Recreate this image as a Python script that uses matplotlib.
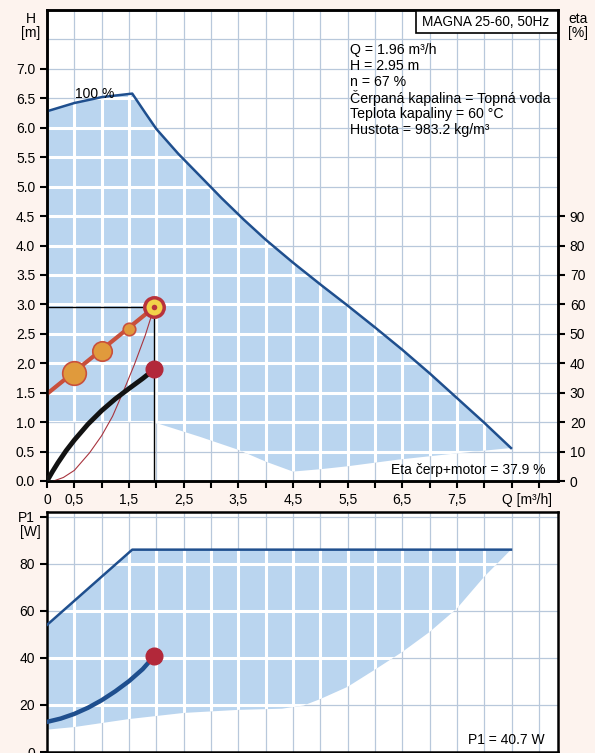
import numpy as np
import matplotlib.pyplot as plt
from matplotlib.patches import Polygon, Rectangle

plt.rcParams['font.family'] = ['Liberation Sans', 'DejaVu Sans']

# --- top chart: H [m] vs Q [m3/h] ---
q_max = [0, 0.5, 1.0, 1.56, 1.8, 2.0, 2.4, 2.79, 3.2, 3.6, 4.0, 4.5, 5.0, 5.5, 6.0, 6.5, 7.0, 7.5, 8.0, 8.49]
h_max = [6.28, 6.42, 6.52, 6.58, 6.25, 5.98, 5.56, 5.19, 4.8, 4.44, 4.1, 3.71, 3.34, 2.98, 2.61, 2.23, 1.83, 1.41, 0.99, 0.56]

q_min = [0, 1.9, 2.05, 2.8, 3.5, 4.0, 4.5, 5.0, 5.5, 6.4, 7.5, 8.49]
h_min = [1.0, 1.0, 0.97, 0.75, 0.53, 0.33, 0.16, 0.2, 0.25, 0.36, 0.47, 0.56]

# operating point
q_op = 1.96
h_op = 2.95

# control curve with markers
q_ctrl = [0, 1.96]
h_ctrl = [1.48, 2.95]
q_marks = [0.5, 1.0, 1.5]
h_marks = [1.83, 2.21, 2.59]
mark_sizes = [17, 14, 9]

# system curve
q_sys = [0.12, 0.3, 0.5, 0.78, 1.0, 1.2, 1.41, 1.6, 1.8, 1.96]
h_sys = [0.0, 0.06, 0.18, 0.48, 0.77, 1.1, 1.55, 1.98, 2.48, 2.95]

# efficiency curve [%]
q_eta = [0, 0.1, 0.2, 0.35, 0.5, 0.75, 1.0, 1.25, 1.5, 1.75, 1.96]
eta = [0, 3.2, 6.2, 10.3, 13.9, 19.3, 23.9, 27.9, 31.4, 34.8, 37.9]

# --- bottom chart: P1 [W] ---
q_pmax = [0, 1.56, 8.49]
p_max = [54, 86, 86]
q_pmin = [0, 0.5, 1.5, 2.5, 3.5, 4.3, 4.7, 5.0, 5.5, 6.0, 6.5, 7.0, 7.5, 8.0, 8.49]
p_min = [9.5, 10.6, 14, 16.6, 17.9, 18.4, 19.8, 22.5, 27.7, 35, 42.5, 51, 61, 74.5, 86]
q_p1 = [0, 0.25, 0.5, 0.75, 1.0, 1.25, 1.5, 1.75, 1.96]
p1 = [12.8, 14.2, 16.2, 18.8, 22.0, 25.8, 30.1, 35.2, 40.7]

x_ticks = np.arange(0, 9.01, 0.5)
x_labels = ['0', '0,5', '', '1,5', '', '2,5', '', '3,5', '', '4,5', '', '5,5',
            '', '6,5', '', '7,5', '', '', '']
info = ['Q = 1.96 m³/h', 'H = 2.95 m', 'n = 67 %', 'Čerpaná kapalina = Topná voda',
        'Teplota kapaliny = 60 °C', 'Hustota = 983.2 kg/m³']

grid_c = '#b8c8db'
fill_c = '#bad5ef'
blue = '#1f4f8e'
red_dot = '#b2283a'
fs = 10
W, H = 595, 753

fig = plt.figure(figsize=(W / 100, H / 100), dpi=100, facecolor='#fdf3ee')
ax = fig.add_axes([47 / W, 1 - 481 / H, 511 / W, 471 / H])
ax2 = fig.add_axes([47 / W, 1 - 752 / H, 511 / W, 240 / H])


def draw_grid(a, xs, ys, poly):
    for x in xs:
        a.axvline(x, color=grid_c, lw=0.9, zorder=0.5)
        l = a.axvline(x, color='white', lw=2.2, zorder=1.5)
        l.set_clip_path(poly)
    for y in ys:
        a.axhline(y, color=grid_c, lw=0.9, zorder=0.5)
        l = a.axhline(y, color='white', lw=2.2, zorder=1.5)
        l.set_clip_path(poly)


def style(a):
    for s in a.spines.values():
        s.set_linewidth(1.8)
        s.set_color('black')
    a.tick_params(direction='out', length=5, width=1.5, labelsize=fs, colors='black')


# top chart
ax.set_xlim(0, 9.35)
ax.set_ylim(0, 8)
pts = list(zip(q_max, h_max)) + list(zip(q_min, h_min))[::-1]
poly = Polygon(pts, closed=True, facecolor=fill_c, edgecolor='none', zorder=1)
ax.add_patch(poly)
draw_grid(ax, x_ticks[1:], np.arange(0.5, 8.0, 0.5), poly)
ax.plot(q_max, h_max, color=blue, lw=1.8, zorder=3)

ax.plot([0, q_op], [h_op, h_op], color='black', lw=1.0, zorder=3)
ax.plot([q_op, q_op], [0, h_op], color='black', lw=1.0, zorder=3)
ax.plot(q_sys, h_sys, color='#a8343e', lw=0.8, zorder=3.5)
ax.plot(q_ctrl, h_ctrl, color='#c9503c', lw=3, zorder=4)
for q, h, s in zip(q_marks, h_marks, mark_sizes):
    ax.plot(q, h, 'o', ms=s, mfc='#e09a3c', mec='#c9503c', mew=1.2, zorder=5)
ax.plot(q_op, h_op, 'o', ms=14, mfc='#f2d24a', mec='#b8333c', mew=2.5, zorder=6)
ax.plot(q_op, h_op, 'o', ms=4, mfc='#b8333c', mec='none', zorder=7)

ax.set_xticks(x_ticks)
ax.set_xticklabels(x_labels)
ax.set_yticks(np.arange(0, 7.01, 0.5))
ax.set_yticklabels(['%.1f' % v for v in np.arange(0, 7.01, 0.5)])
style(ax)

axr = ax.twinx()
axr.set_ylim(0, 160)
axr.plot(q_eta, eta, color='#121212', lw=3.5, zorder=4, solid_capstyle='round')
axr.plot(q_eta[-1], eta[-1], 'o', ms=12, color=red_dot, zorder=6)
axr.set_yticks(np.arange(0, 91, 10))
style(axr)

ax.text(8.78, -0.2, 'Q [m³/h]', ha='center', va='top', fontsize=fs)
ax.text(-0.3, 7.72, 'H\n[m]', ha='center', va='center', fontsize=fs, linespacing=1.0)
ax.text(9.72, 7.72, 'eta\n[%]', ha='center', va='center', fontsize=fs, linespacing=1.0)
ax.text(0.87, 6.58, '100 %', ha='center', va='center', fontsize=fs)
ax.add_patch(Rectangle((369 / 511, 448 / 471), 142 / 511, 23 / 471, transform=ax.transAxes,
                       facecolor='white', edgecolor='black', lw=1.2, zorder=8))
ax.text(439 / 511, 0.9745, 'MAGNA 25-60, 50Hz', transform=ax.transAxes,
        ha='center', va='center', fontsize=9.8, zorder=9)
for i, t in enumerate(info):
    ax.text(5.54, 7.32 - i * 0.272, t, ha='left', va='center', fontsize=10.2, zorder=8)
ax.text(9.12, 0.19, 'Eta čerp+motor = 37.9 %', ha='right', va='center', fontsize=fs, zorder=8)

# bottom chart
ax2.set_xlim(0, 9.35)
ax2.set_ylim(0, 102)
pts2 = list(zip(q_pmax, p_max)) + list(zip(q_pmin, p_min))[::-1]
poly2 = Polygon(pts2, closed=True, facecolor=fill_c, edgecolor='none', zorder=1)
ax2.add_patch(poly2)
draw_grid(ax2, x_ticks[1:], [20, 40, 60, 80, 100], poly2)
ax2.plot(q_pmax, p_max, color=blue, lw=1.8, zorder=3)
ax2.plot(q_p1, p1, color=blue, lw=3.2, zorder=4)
ax2.plot(q_p1[-1], p1[-1], 'o', ms=12, color=red_dot, zorder=6)
ax2.set_xticks([])
ax2.set_yticks([0, 20, 40, 60, 80, 100])
ax2.set_yticklabels(['0', '20', '40', '60', '80', 'P1'])
style(ax2)
ax2.text(-0.3, 93.5, '[W]', ha='center', va='center', fontsize=fs)
ax2.text(9.1, 5.1, 'P1 = 40.7 W', ha='right', va='center', fontsize=fs, zorder=8)

fig.savefig('out.png', dpi=100, facecolor=fig.get_facecolor())
